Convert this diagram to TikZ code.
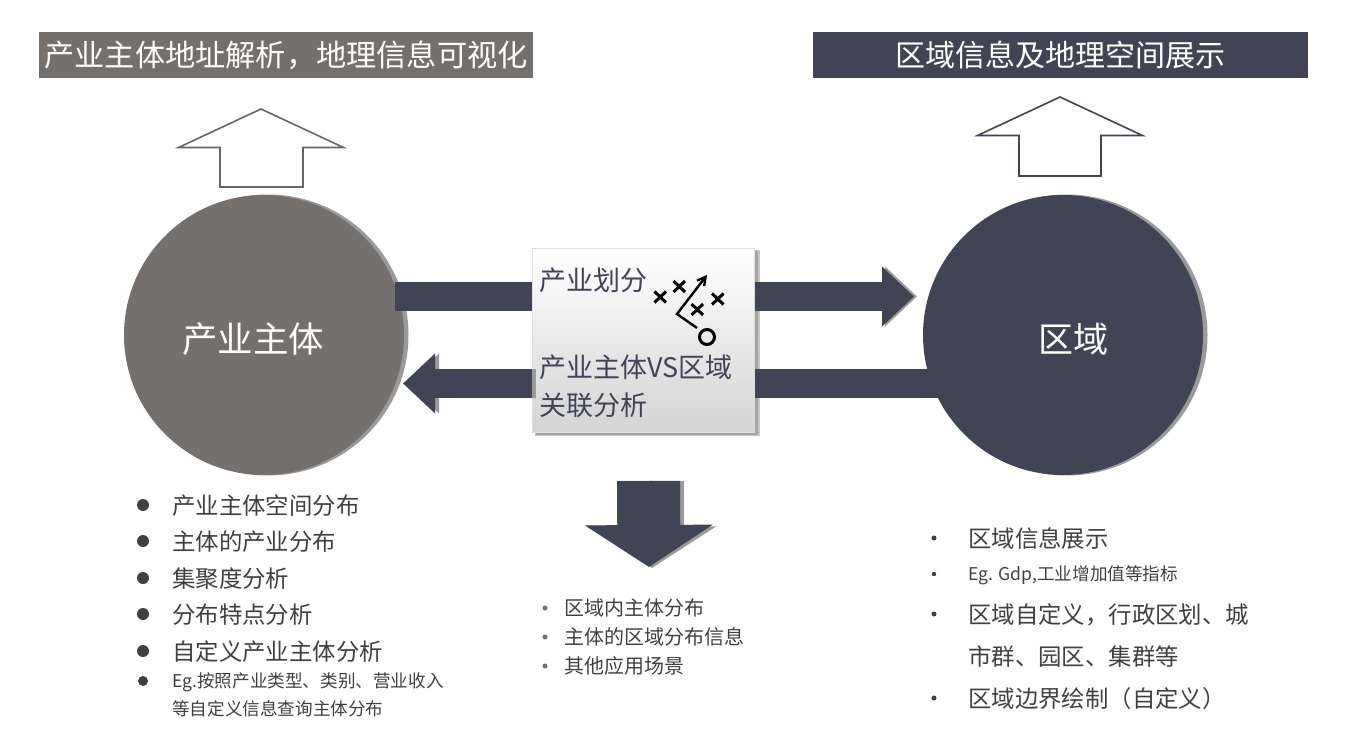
\documentclass[tikz,border=0pt]{standalone}
\usepackage{fontspec}
\setmainfont{Noto Sans CJK SC}
\usepackage{xcolor}
\usepackage{tikz}
\usetikzlibrary{shapes,arrows.meta,positioning}
\definecolor{warmGray}{HTML}{74706D}
\definecolor{slateDark}{HTML}{414455}
\definecolor{bodyText}{HTML}{404040}
\definecolor{edgeGray}{HTML}{9A9A9A}
\newcommand{\fsize}[1]{\fontsize{#1pt}{#1pt}\selectfont}
\tikzstyle{titlebar} = [rectangle, text=white, minimum height=46pt, inner sep=0pt, text centered]
\tikzstyle{bigcircle} = [circle, minimum size=280pt, inner sep=0pt]
\tikzstyle{circletext} = [text=white, inner sep=0pt]
\tikzstyle{boxtext} = [anchor=west, text=slateDark, inner sep=0pt]
\tikzstyle{bar} = [draw=slateDark, line width=29pt]
\tikzstyle{bararrow} = [draw=slateDark, line width=29pt, -{Triangle[length=32pt,width=58pt]}]
\tikzstyle{barshadow} = [draw=edgeGray, line width=29pt, -{Triangle[length=32pt,width=58pt]}]
\tikzstyle{listbig} = [anchor=west, text=bodyText, inner sep=0pt, font=\fsize{23.4}]
\tikzstyle{listsmall} = [anchor=west, text=bodyText, inner sep=0pt, font=\fsize{17.6}]
\tikzstyle{listmid} = [anchor=west, text=bodyText, inner sep=0pt, font=\fsize{20}]
\tikzstyle{cross} = [line width=3pt, black]
\begin{document}
\begin{tikzpicture}[x=1pt, y=-1pt]
    \useasboundingbox (0,0) rectangle (1366,741);
    % Place nodes
    \node [titlebar, fill=warmGray, minimum width=494pt, font=\fsize{30.2}] (titleLeft) at (286,55.5) {产业主体地址解析，地理信息可视化};
    \node [titlebar, fill=slateDark, minimum width=495pt, font=\fsize{30}] (titleRight) at (1060.5,55) {区域信息及地理空间展示};
%
    \fill [edgeGray] (268,335) circle (140.5);
    \fill [edgeGray] (1067,335) circle (140.5);
    \node [bigcircle, fill=warmGray] (industryCircle) at (264,335) {};
    \node [bigcircle, fill=slateDark, right of=industryCircle, node distance=799pt] (regionCircle) {};
    \node [circletext, font=\fsize{35.5}] (industryLabel) at (253,339) {产业主体};
    \node [circletext, font=\fsize{35}] (regionLabel) at (1073,339) {区域};
%
    % outline arrows
    \draw [warmGray!90!black, line width=1.6pt, line join=miter] (261,109) -- (343.5,147.5) -- (303,147.5) -- (303,187) -- (220,187) -- (220,147.5) -- (178.5,147.5) -- cycle;
    \draw [slateDark, line width=1.6pt, line join=miter] (1060,97) -- (1142.5,135.5) -- (1101,135.5) -- (1101,176) -- (1019,176) -- (1019,135.5) -- (977.5,135.5) -- cycle;
%
    % centre box
    \fill [black!22] (535,250) rectangle (760,436);
    \fill [edgeGray!90] (536,251) rectangle (758,434.5);
    \node [rectangle, draw=black!12, top color=white, bottom color=black!17, minimum width=222pt, minimum height=184pt, inner sep=0pt] (matchBox) at (643.5,340) {};
    \coordinate (topBarEnd) at (395,296.5);
    \coordinate (topArrowTip) at (914,296.5);
    \coordinate (lowArrowTip) at (403,383.5);
    \coordinate (lowBarEnd) at (945,383.5);
    \path [bar] (topBarEnd) -- (matchBox.west |- topBarEnd);
    \path [barshadow] ([xshift=2pt]matchBox.east |- topBarEnd) -- ([xshift=3pt]topArrowTip);
    \path [bararrow] (matchBox.east |- topBarEnd) -- (topArrowTip);
    \path [bar] (matchBox.east |- lowBarEnd) -- (lowBarEnd);
    \path [barshadow] ([xshift=4pt]matchBox.west |- lowArrowTip) -- ([xshift=4pt]lowArrowTip);
    \path [bararrow] (matchBox.west |- lowArrowTip) -- (lowArrowTip);
    \node [boxtext, font=\fsize{27}] (matchOne) at (539,280) {产业划分};
    \node [boxtext, font=\fsize{27}] (matchTwo) at (539,367) {产业主体VS区域};
    \node [boxtext, font=\fsize{27}] (matchThree) at (539,405) {关联分析};
%
    % playbook icon
    \draw [cross] (654.5,291.5) -- (666,302.5) (654.5,302.5) -- (666,291.5);
    \draw [cross] (673.5,281) -- (685,292) (673.5,292) -- (685,281);
    \draw [cross] (691.5,304) -- (703,315) (691.5,315) -- (703,304);
    \draw [cross] (712,293.5) -- (723.5,304.5) (712,304.5) -- (723.5,293.5);
    \draw [black, line width=2.4pt, -{Straight Barb[length=8pt,width=9pt]}] (697,328) -- (677,314) -- (707,275);
    \draw [black, line width=3pt] (707,337) circle (7.5);
%
    % down arrow
    \coordinate (downStart) at (648.5,481);
    \coordinate (downTip) at (649,567);
    \path [draw=edgeGray, line width=63pt, -{Triangle[length=42pt,width=126pt]}] ([xshift=4pt]downStart) -- ([xshift=3pt,yshift=-1pt]downTip);
    \path [draw=slateDark, line width=63pt, -{Triangle[length=42pt,width=126pt]}] (downStart) -- (downTip);
%
    % left list
    \fill [bodyText] (143,505) circle (6) (143,541) circle (6) (143,578) circle (6) (143,614) circle (6) (143,651) circle (6) (143,681) circle (5);
    \node [listbig] (leftOne) at (172,506) {产业主体空间分布};
    \node [listbig] (leftTwo) at (172,542) {主体的产业分布};
    \node [listbig] (leftThree) at (172,579) {集聚度分析};
    \node [listbig] (leftFour) at (172,615) {分布特点分析};
    \node [listbig] (leftFive) at (172,652) {自定义产业主体分析};
    \node [listsmall] (leftSix) at (172,682) {Eg.按照产业类型、类别、营业收入};
    \node [listsmall] (leftSeven) at (172,709) {等自定义信息查询主体分布};
%
    % middle list
    \fill [warmGray] (545,608) circle (2.5) (545,637) circle (2.5) (545,666) circle (2.5);
    \node [listmid] (midOne) at (564,608) {区域内主体分布};
    \node [listmid] (midTwo) at (564,637) {主体的区域分布信息};
    \node [listmid] (midThree) at (564,666) {其他应用场景};
%
    % right list
    \fill [bodyText] (934,538) circle (2.5) (934,574) circle (2.2) (934,614) circle (2.5) (934,698) circle (2.5);
    \node [listbig] (rightOne) at (968,539) {区域信息展示};
    \node [listsmall] (rightTwo) at (968,575) {Eg. Gdp,工业增加值等指标};
    \node [listbig] (rightThree) at (968,615) {区域自定义，行政区划、城};
    \node [listbig] (rightFour) at (968,657) {市群、园区、集群等};
    \node [listbig] (rightFive) at (968,699) {区域边界绘制（自定义）};
\end{tikzpicture}
\end{document}
